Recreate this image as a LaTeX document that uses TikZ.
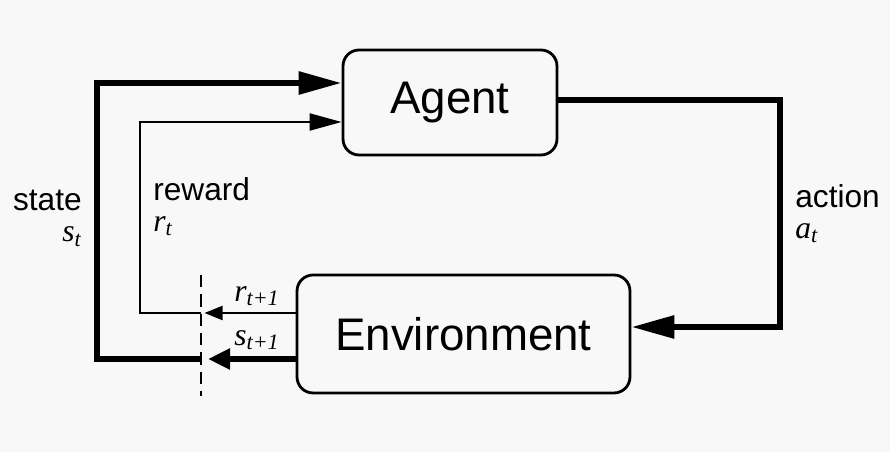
\documentclass[tikz,border=0pt]{standalone}
\usepackage{fontspec}
\setmainfont{Liberation Sans}
\newfontfamily\symfont{Liberation Serif}
\usetikzlibrary{arrows.meta, positioning, calc}
\definecolor{bgcol}{RGB}{248,248,248}
\newcommand{\sym}[2]{{\symfont\itshape #1\textsubscript{#2}}}

\begin{document}
\begin{tikzpicture}
  [
  x = 0.02cm, y = -0.02cm,
  % boxes
  block/.style = {rectangle, rounded corners=0.32cm, draw, line width=1.6pt,
    inner sep=0pt, font=\fontsize{26}{30}\selectfont},
  % lines
  bigline/.style = {line width=3.4pt},
  smallline/.style = {line width=1.2pt},
  bighead/.style = {-{Triangle[length=0.86cm, width=0.44cm]}},
  smallhead/.style = {-{Triangle[length=0.64cm, width=0.34cm]}},
  % labels
  lbl/.style = {inner sep=0pt, font=\fontsize{18}{17.5}\selectfont},
  ]

  \fill [bgcol] (0,0) rectangle (890,452);
  \useasboundingbox (0,0) rectangle (890,452);

  % nodes
  \node [block, minimum width=4.28cm, minimum height=2.1cm] (agent) at (450,102.5) {Agent};
  \node [block, minimum width=6.66cm, minimum height=2.36cm] (env) at (463.5,334) {Environment};

  % corners and cut points
  \coordinate (sl) at (97,359);
  \coordinate (rl) at (140,313);
  \coordinate (sc) at (201,359);
  \coordinate (rc) at (201,313);
  \coordinate (ar) at (780,327);
  \coordinate (dtop) at (201,275);
  \coordinate (dbot) at (201,396);

  % path
  \draw [bigline, bighead] (sc) -- (sl) |- ($(agent.west)+(0,-19.5)$);
  \draw [smallline, smallhead] (rc) -- (rl) |- ($(agent.west)+(0,19.5)$);
  \draw [bigline, bighead, line join=miter] (agent.east |- 0,100) -| (ar) -- (env.east |- ar);
  \draw [bigline, -{Triangle[length=0.44cm, width=0.4cm]}] (env.west |- sc) -- ([xshift=4]sc);
  \draw [smallline, -{Triangle[length=0.36cm, width=0.28cm]}] (env.west |- rc) -- ([xshift=2]rc);
  \draw [smallline, dash pattern=on 7pt off 4pt] (dtop) -- (dbot);

  % tekst
  \node [lbl, align=right, anchor=north east] (state) at (82,190) {state\\\sym{s}{t}};
  \node [lbl, align=left, anchor=north west] (reward) at (153,177) {reward\\\sym{r}{t}};
  \node [lbl, align=left, anchor=north west] (action) at (795,184) {action\\\sym{a}{t}};
  \node [lbl] (rnext) at (257,296) {\sym{r}{t+1}};
  \node [lbl] (snext) at (257,340) {\sym{s}{t+1}};

\end{tikzpicture}
\end{document}
